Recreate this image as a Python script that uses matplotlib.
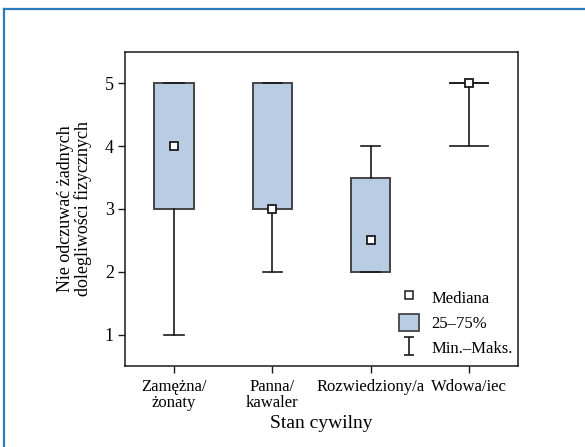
'''
Script used to plot box chart of marital status vs. lack of physical complaints
'''
import matplotlib
matplotlib.use('Agg')

import matplotlib.pyplot as plt
from matplotlib.lines   import Line2D
from matplotlib.patches import Patch
from matplotlib.path    import Path

# ---------------------------------
l_category = ['Zamężna/\nżonaty', 'Panna/\nkawaler', 'Rozwiedziony/a', 'Wdowa/iec']
l_min      = [1.0, 2.0, 2.0, 4.0]
l_q1       = [3.0, 3.0, 2.0, 5.0]
l_median   = [4.0, 3.0, 2.5, 5.0]
l_q3       = [5.0, 5.0, 3.5, 5.0]
l_max      = [5.0, 5.0, 4.0, 5.0]
l_yticks   = [1, 2, 3, 4, 5]

x_label    = 'Stan cywilny'
y_label    = 'Nie odczuwać żadnych\ndolegliwości fizycznych'
l_legend   = ['Mediana', '25–75%', 'Min.–Maks.']

box_color  = '#b8cce4'
edge_color = '#444444'
frame_col  = '#2b7bba'
# ---------------------------------
def _initialize() -> None:
    plt.rcParams['font.family'] = ['Liberation Serif', 'DejaVu Serif']
    plt.rcParams['font.size']   = 12
# ------------------------------------
def _ibeam_marker() -> Path:
    verts = [(-0.6, -1), (0.6, -1), (0, -1), (0, 1), (-0.6, 1), (0.6, 1)]
    codes = [Path.MOVETO, Path.LINETO, Path.MOVETO, Path.LINETO, Path.MOVETO, Path.LINETO]
    return Path(verts, codes)
# ------------------------------------
def _plot_boxes(ax) -> None:
    positions = list(range(1, len(l_category) + 1))
    l_stat    = []
    for lo, q1, med, q3, hi in zip(l_min, l_q1, l_median, l_q3, l_max):
        l_stat.append({'whislo' : lo, 'q1' : q1, 'med' : med, 'q3' : q3, 'whishi' : hi, 'fliers' : []})

    capwidths = [0.38 if q1 == q3 else 0.2 for q1, q3 in zip(l_q1, l_q3)]

    ax.bxp(l_stat, positions=positions, widths=0.4, capwidths=capwidths,
           patch_artist=True, showfliers=False,
           boxprops     = {'facecolor' : box_color, 'edgecolor' : edge_color, 'linewidth' : 1.4},
           whiskerprops = {'color' : '#1a1a1a', 'linewidth' : 1.2},
           capprops     = {'color' : '#1a1a1a', 'linewidth' : 1.2},
           medianprops  = {'linewidth' : 0})

    ax.plot(positions, l_median, linestyle='none', marker='s', markersize=5.2,
            markerfacecolor='white', markeredgecolor='#1a1a1a', markeredgewidth=1.3, zorder=5)

    ax.set_xticks(positions)
    ax.set_xticklabels(l_category, fontsize=12, linespacing=1.05)
# ------------------------------------
def _add_legend(ax) -> None:
    h_med = Line2D([], [], linestyle='none', marker='s', markersize=5.2,
                   markerfacecolor='white', markeredgecolor='#1a1a1a', markeredgewidth=1.1)
    h_box = Patch(facecolor=box_color, edgecolor=edge_color, linewidth=1.3)
    h_rng = Line2D([], [], linestyle='none', marker=_ibeam_marker(), markersize=13,
                   markerfacecolor='none', markeredgecolor='#1a1a1a', markeredgewidth=1.2)

    ax.legend([h_med, h_box, h_rng], l_legend, loc='upper left', bbox_to_anchor=(0.668, 0.285),
              frameon=False, fontsize=12, handlelength=1.2, handleheight=1.25,
              labelspacing=0.42, handletextpad=0.75, borderpad=0.2)
# ------------------------------------
def _add_frame(fig) -> None:
    w, h = fig.get_size_inches() * fig.dpi
    fig.add_artist(Line2D([4 / w, 1.0], [1 - 9 / h, 1 - 9 / h], transform=fig.transFigure,
                          color=frame_col, linewidth=1.6))
    fig.add_artist(Line2D([4 / w, 4 / w], [0.0, 1 - 9 / h], transform=fig.transFigure,
                          color=frame_col, linewidth=1.6))
# ------------------------------------
def main():
    '''
    start here
    '''
    _initialize()

    fig = plt.figure(figsize=(5.85, 4.47), dpi=100)
    ax  = fig.add_axes([0.2137, 0.1812, 0.6718, 0.7025])

    _plot_boxes(ax)

    ax.set_xlim(0.5, len(l_category) + 0.5)
    ax.set_ylim(0.5, 5.5)
    ax.set_yticks(l_yticks)
    ax.tick_params(axis='both', direction='out', length=5, width=1.0, color='#1a1a1a')
    ax.tick_params(axis='y', pad=3, labelsize=13)
    ax.tick_params(axis='x', pad=4)
    for spine in ax.spines.values():
        spine.set_color('#1a1a1a')
        spine.set_linewidth(1.1)

    ax.set_xlabel(x_label, fontsize=14, labelpad=3)
    ax.set_ylabel(y_label, fontsize=13, labelpad=9, linespacing=1.05)

    _add_legend(ax)
    _add_frame(fig)

    fig.savefig('out.png', dpi=100)
    plt.close(fig)
# ------------------------------------
if __name__ == "__main__":
    main()
